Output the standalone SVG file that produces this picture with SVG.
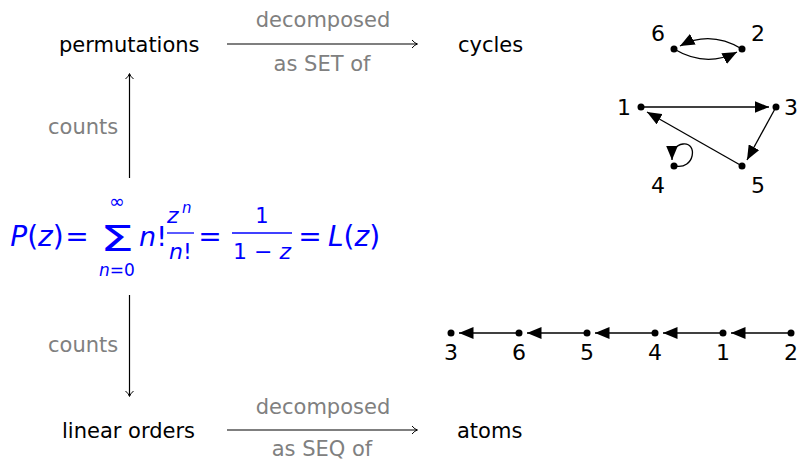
<svg xmlns="http://www.w3.org/2000/svg" width="798" height="460" viewBox="0 0 798 460">
<defs>
<marker id="ah" markerUnits="userSpaceOnUse" markerWidth="15" markerHeight="12" refX="14.5" refY="6" orient="auto">
<path d="M0,0 L14.5,6 L0,12 z" fill="#000"/>
</marker>
<style>
text{font-family:"DejaVu Sans",sans-serif}
.lbl{font-size:21px;fill:#000}
.g{font-size:21px;fill:#808080}
.num{font-size:22px;fill:#000;text-anchor:middle}
.m{fill:#0000ff}
.i{font-style:italic}
.mid{text-anchor:middle}
.ln{stroke:#000;stroke-width:1.2;fill:none}
.ga{stroke:#000;stroke-width:1.3;fill:none;marker-end:url(#ah)}
.tip{stroke:#000;stroke-width:1;fill:none}
.dot{fill:#000}
</style>
</defs>

<g id="permutations"><text class="lbl" x="59" y="52">permutations</text></g>
<g id="cycles"><text class="lbl" x="458" y="52">cycles</text></g>
<g id="linear-orders"><text class="lbl" x="62" y="438">linear orders</text></g>
<g id="atoms"><text class="lbl" x="457" y="438">atoms</text></g>

<g id="formula" class="m">
<text x="37" y="246" font-size="28" class="mid"><tspan class="i">P</tspan>(<tspan class="i">z</tspan>)</text>
<text x="77" y="246" font-size="28" class="mid">=</text>
<text x="117" y="251" font-size="36" class="mid" textLength="34" lengthAdjust="spacingAndGlyphs">Σ</text>
<text x="117" y="208" font-size="19" class="mid">∞</text>
<text x="117" y="276" font-size="17" class="mid"><tspan class="i">n</tspan>=0</text>
<text x="153" y="246" font-size="27" class="mid"><tspan class="i">n</tspan>!</text>
<text x="167" y="223" font-size="22" class="i">z</text>
<text x="182" y="213" font-size="15" class="i">n</text>
<line x1="167" y1="233" x2="194" y2="233" stroke="#0000ff" stroke-width="1.3"/>
<text x="180.5" y="259" font-size="22" class="mid"><tspan class="i">n</tspan>!</text>
<text x="210" y="246" font-size="28" class="mid">=</text>
<text x="262" y="223" font-size="21" class="mid">1</text>
<line x1="232" y1="233" x2="292" y2="233" stroke="#0000ff" stroke-width="1.3"/>
<text x="262" y="259" font-size="22" class="mid">1 − <tspan class="i">z</tspan></text>
<text x="310" y="246" font-size="28" class="mid">=</text>
<text x="354" y="246" font-size="28" class="mid"><tspan class="i">L</tspan>(<tspan class="i">z</tspan>)</text>
</g>

<g id="connectors">
<line class="ln" x1="227" y1="44" x2="417" y2="44"/>
<path class="tip" d="M412,40 Q415,43.5 417.5,44 Q415,44.5 412,48"/>
<text class="g mid" x="323" y="27">decomposed</text>
<text class="g mid" x="322" y="71">as SET of</text>

<line class="ln" x1="227" y1="430" x2="417" y2="430"/>
<path class="tip" d="M412,426 Q415,429.5 417.5,430 Q415,430.5 412,434"/>
<text class="g mid" x="323" y="414">decomposed</text>
<text class="g mid" x="322" y="456">as SEQ of</text>

<line class="ln" x1="129.5" y1="178" x2="129.5" y2="74"/>
<path class="tip" d="M125.5,79 Q129,76 129.5,73.5 Q130,76 133.5,79"/>
<text class="g" x="48" y="134">counts</text>

<line class="ln" x1="129.5" y1="295" x2="129.5" y2="396"/>
<path class="tip" d="M125.5,391 Q129,394 129.5,396.5 Q130,394 133.5,391"/>
<text class="g" x="48" y="352">counts</text>
</g>

<g id="cycle-graph">
<path class="ga" d="M742,49 Q710,30 680,46"/>
<path class="ga" d="M674,49 Q706,68 737,52"/>
<line class="ga" x1="641" y1="107" x2="769" y2="107"/>
<line class="ga" x1="776" y1="107" x2="747" y2="160"/>
<line class="ga" x1="742" y1="166" x2="647" y2="112"/>
<path class="ga" d="M675,166 C695,170 698,142 683,144 C676,145 672,150 672,160"/>
<circle class="dot" cx="674" cy="49" r="3.5"/>
<circle class="dot" cx="742" cy="49" r="3.5"/>
<circle class="dot" cx="641" cy="107" r="3.5"/>
<circle class="dot" cx="776" cy="107" r="3.5"/>
<circle class="dot" cx="742" cy="166" r="3.5"/>
<circle class="dot" cx="674" cy="166" r="3.5"/>
<text class="num" x="658" y="41">6</text>
<text class="num" x="758" y="41">2</text>
<text class="num" x="624" y="115">1</text>
<text class="num" x="791" y="115">3</text>
<text class="num" x="658" y="193">4</text>
<text class="num" x="758" y="193">5</text>
</g>

<g id="linear-graph">
<line class="ga" x1="519" y1="333" x2="459" y2="333"/>
<line class="ga" x1="587" y1="333" x2="527" y2="333"/>
<line class="ga" x1="655" y1="333" x2="595" y2="333"/>
<line class="ga" x1="723" y1="333" x2="663" y2="333"/>
<line class="ga" x1="791" y1="333" x2="731" y2="333"/>
<circle class="dot" cx="451" cy="333" r="3.5"/>
<circle class="dot" cx="519" cy="333" r="3.5"/>
<circle class="dot" cx="587" cy="333" r="3.5"/>
<circle class="dot" cx="655" cy="333" r="3.5"/>
<circle class="dot" cx="723" cy="333" r="3.5"/>
<circle class="dot" cx="791" cy="333" r="3.5"/>
<text class="num" x="451" y="360">3</text>
<text class="num" x="519" y="360">6</text>
<text class="num" x="587" y="360">5</text>
<text class="num" x="655" y="360">4</text>
<text class="num" x="723" y="360">1</text>
<text class="num" x="791" y="360">2</text>
</g>
</svg>
